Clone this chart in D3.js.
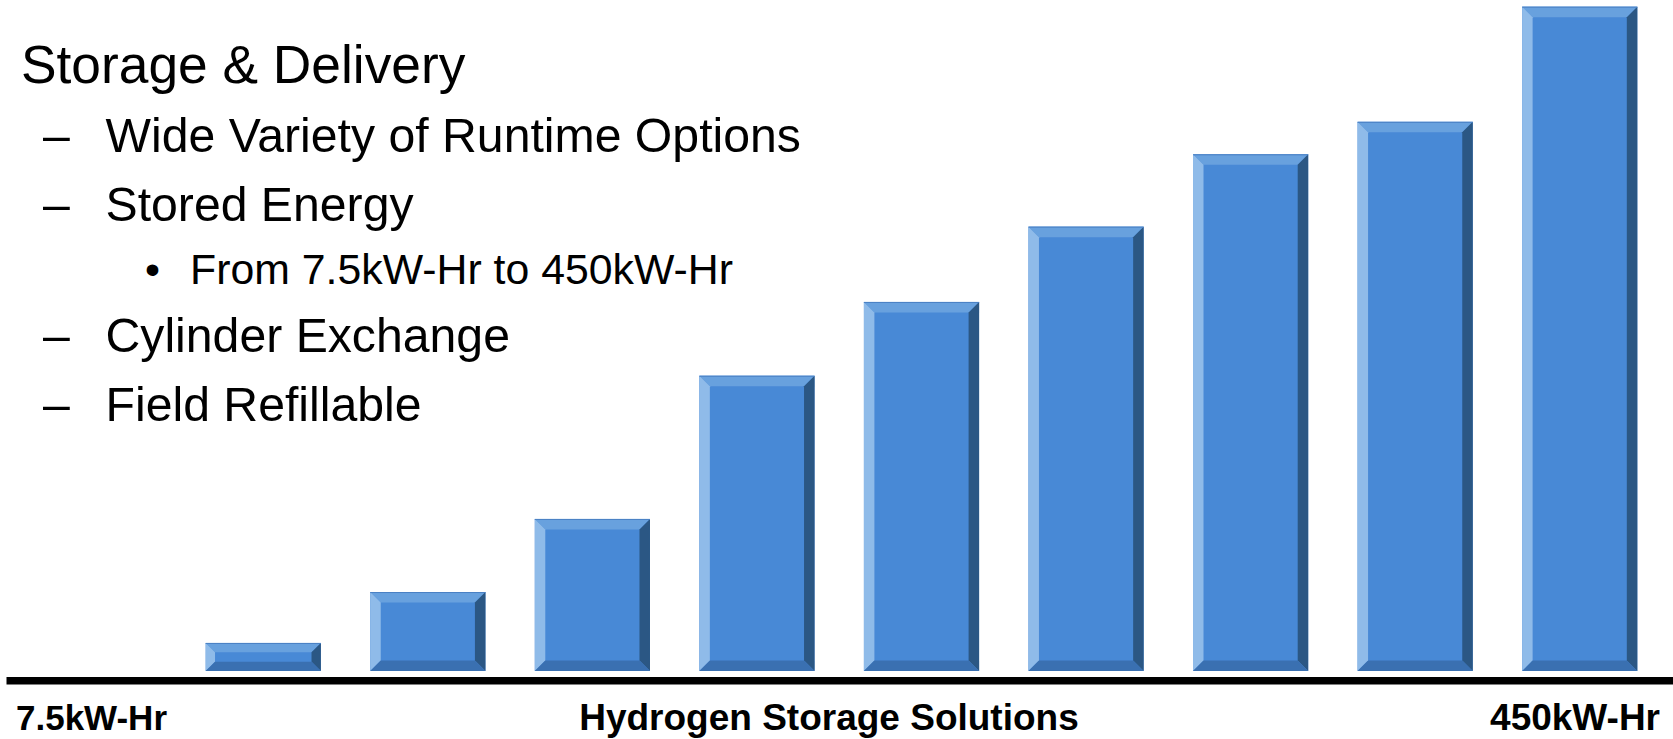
<!DOCTYPE html>
<html>
<head>
<meta charset="utf-8">
<script src="https://cdn.jsdelivr.net/npm/d3@7"></script>
<style>
  html, body { margin: 0; padding: 0; background: #ffffff; }
  svg { display: block; }
  text { font-family: "Liberation Sans", Arial, Helvetica, sans-serif; fill: #000; }
</style>
</head>
<body>
<svg id="chart" width="1673" height="739"></svg>
<script>
// ---- data ----
const categories = ["Unit 1", "Unit 2", "Unit 3", "Unit 4", "Unit 5", "Unit 6", "Unit 7", "Unit 8", "Unit 9"];
const storedEnergy = [19, 53.5, 103, 200, 250, 301, 350, 372, 450]; // kW-Hr (relative)
const axisLabels = ["7.5kW-Hr", "Hydrogen Storage Solutions", "450kW-Hr"];
const titleText = "Storage & Delivery";
const bulletLines = [
  { level: 2, text: "Wide Variety of Runtime Options" },
  { level: 2, text: "Stored Energy" },
  { level: 3, text: "From 7.5kW-Hr to 450kW-Hr" },
  { level: 2, text: "Cylinder Exchange" },
  { level: 2, text: "Field Refillable" }
];

const svg = d3.select("#chart");

const x = d3.scaleBand()
  .domain(categories)
  .range([181, 1662])
  .paddingInner(0.3)
  .paddingOuter(0.15);

const y = d3.scaleLinear()
  .domain([0, 450])
  .range([671, 6.7]);

const colors = {
  face: "#4889d6",
  top: "#68a1de",
  left: "#8fbbe9",
  right: "#2b5784",
  bottom: "#3a70b1",
  edge: "#4a80c4"
};

const bars = svg.append("g").attr("class", "bars")
  .selectAll("g")
  .data(categories.map((c, i) => ({ c, v: storedEnergy[i] })))
  .join("g");

bars.each(function(d) {
  const g = d3.select(this);
  const x0 = x(d.c), x1 = x0 + x.bandwidth();
  const y0 = y(d.v), y1 = y(0);
  const b = Math.min(10.5, (y1 - y0) / 3);
  const pts = a => a.map(p => p.join(",")).join(" ");
  g.append("rect").attr("x", x0).attr("y", y0).attr("width", x1 - x0).attr("height", y1 - y0).attr("fill", colors.face);
  g.append("polygon").attr("points", pts([[x0, y0], [x1, y0], [x1 - b, y0 + b], [x0 + b, y0 + b]])).attr("fill", colors.top);
  g.append("polygon").attr("points", pts([[x0, y0], [x0 + b, y0 + b], [x0 + b, y1 - b], [x0, y1]])).attr("fill", colors.left);
  g.append("polygon").attr("points", pts([[x1, y0], [x1, y1], [x1 - b, y1 - b], [x1 - b, y0 + b]])).attr("fill", colors.right);
  g.append("polygon").attr("points", pts([[x0, y1], [x0 + b, y1 - b], [x1 - b, y1 - b], [x1, y1]])).attr("fill", colors.bottom);
  g.append("line").attr("x1", x0).attr("x2", x1).attr("y1", y0 + 0.5).attr("y2", y0 + 0.5)
    .attr("stroke", colors.edge).attr("stroke-width", 1);
});

// baseline axis
svg.append("line")
  .attr("x1", 6.5).attr("x2", 1673)
  .attr("y1", 680.8).attr("y2", 680.8)
  .attr("stroke", "#000").attr("stroke-width", 7.5);

// axis labels
const axisG = svg.append("g").attr("font-weight", "bold");
axisG.append("text").attr("x", 16).attr("y", 730).attr("font-size", 35).text(axisLabels[0]);
axisG.append("text").attr("x", 829).attr("y", 730).attr("font-size", 37).attr("text-anchor", "middle").text(axisLabels[1]);
axisG.append("text").attr("x", 1660).attr("y", 730).attr("font-size", 37).attr("text-anchor", "end").text(axisLabels[2]);

// text block
svg.append("text").attr("x", 21).attr("y", 83).attr("font-size", 53.3).text(titleText);
const baselines = [151.5, 221, 284, 352, 421];
bulletLines.forEach((l, i) => {
  if (l.level === 2) {
    svg.append("text").attr("x", 43).attr("y", baselines[i]).attr("font-size", 48.2).text("\u2013");
    svg.append("text").attr("x", 105.5).attr("y", baselines[i]).attr("font-size", 48.2).text(l.text);
  } else {
    svg.append("text").attr("x", 145).attr("y", baselines[i]).attr("font-size", 42.8).text("\u2022");
    svg.append("text").attr("x", 190).attr("y", baselines[i]).attr("font-size", 42.8).text(l.text);
  }
});
</script>
</body>
</html>
